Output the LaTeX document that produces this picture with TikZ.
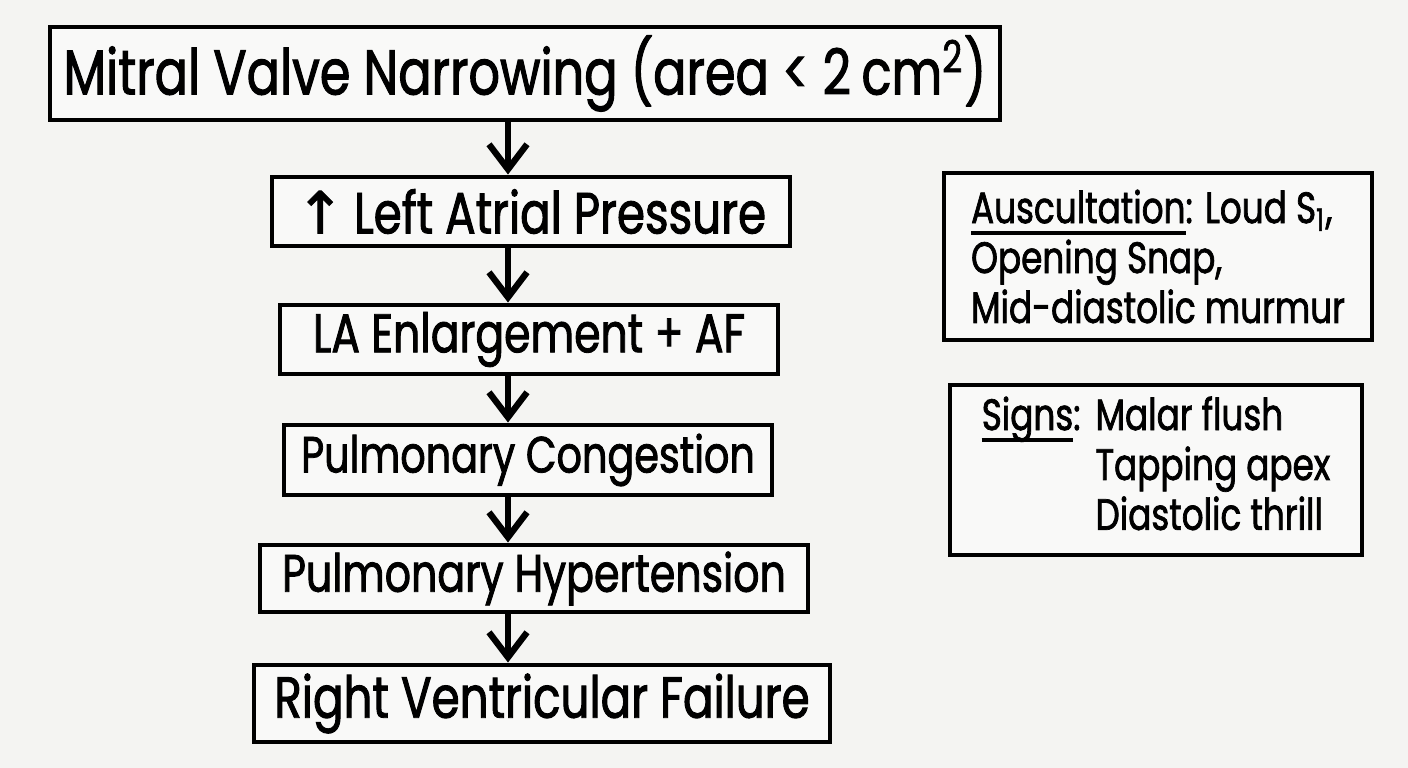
\documentclass[tikz,border=0pt]{standalone}
\usepackage{fontspec}
\setmainfont{Poppins}[FakeStretch=0.78,FakeBold=1.6]
\newfontfamily\arrowfont{DejaVu Sans}[FakeBold=1.6]
\usetikzlibrary{arrows.meta}
\newcommand{\thickul}[1]{\setbox0=\hbox{#1}\rlap{\rule[-3.5pt]{\wd0}{1.3pt}}\box0}

\begin{document}
\begin{tikzpicture}[xscale=1,yscale=1,
  flowbox/.style={draw=linecolor,fill=fillcolor,line width=1.4pt,inner sep=0pt,font=\fontsize{15.5}{19}\selectfont},
  notebox/.style={draw=linecolor,fill=fillcolor,line width=1.4pt,inner sep=0pt,align=left,font=\fontsize{12.5}{14.2}\selectfont},
  flowarrow/.style={draw=linecolor,line width=1.8pt,-{Straight Barb[length=2.5mm,width=3.8mm]}}]
\definecolor{bgcolor}{RGB}{244,244,242} % Definition of the paper color
\definecolor{linecolor}{RGB}{0,0,0} % Definition of the line color
\definecolor{fillcolor}{RGB}{249,249,248} % Definition of the fill color
\fill[bgcolor] (0,0) rectangle (14.08,7.68); % Paper of 1408 x 768
\useasboundingbox (0,0) rectangle (14.08,7.68);
\coordinate (spine) at (5.08,0); % x of the arrow column
% chain of boxes
\node[flowbox,minimum width=9.5cm,minimum height=0.93cm,font=\fontsize{18}{21}\selectfont] (narrowing) at (5.25,6.945) {Mitral Valve Narrowing (area < 2\,cm\textsuperscript{2})};
\node[flowbox,minimum width=5.18cm,minimum height=0.69cm,font=\fontsize{16.5}{19}\selectfont] (lapressure) at (5.31,5.565) {{\arrowfont ↑}\,Left Atrial Pressure};
\node[flowbox,minimum width=4.98cm,minimum height=0.69cm] (enlargement) at (5.29,4.285) {LA Enlargement + AF};
\node[flowbox,minimum width=4.88cm,minimum height=0.70cm,font=\fontsize{14.5}{18}\selectfont] (congestion) at (5.28,3.08) {Pulmonary Congestion};
\node[flowbox,minimum width=5.48cm,minimum height=0.67cm,font=\fontsize{15}{18}\selectfont] (hypertension) at (5.34,1.895) {Pulmonary Hypertension};
\node[flowbox,minimum width=5.76cm,minimum height=0.77cm,font=\fontsize{16.5}{19}\selectfont] (rvfailure) at (5.42,0.645) {Right Ventricular Failure};
% arrows down the chain
\draw[flowarrow] (narrowing.south -| spine) -- (lapressure.north -| spine);
\draw[flowarrow] (lapressure.south -| spine) -- (enlargement.north -| spine);
\draw[flowarrow] (enlargement.south -| spine) -- (congestion.north -| spine);
\draw[flowarrow] (congestion.south -| spine) -- (hypertension.north -| spine);
\draw[flowarrow] (hypertension.south -| spine) -- (rvfailure.north -| spine);
% side notes
\node[notebox,minimum width=4.28cm,minimum height=1.67cm] (auscultation) at (11.58,5.115) {\thickul{Auscultation}: Loud S\textsubscript{1},\\Opening Snap,\\Mid-diastolic murmur};
\node[notebox,minimum width=4.12cm,minimum height=1.70cm] (signs) at (11.56,2.98) {\begin{tabular}{@{}l@{\hspace{0.15cm}}l@{}}\thickul{Signs}: & Malar flush\\ & Tapping apex\\ & Diastolic thrill\end{tabular}};
\end{tikzpicture}
\end{document}
